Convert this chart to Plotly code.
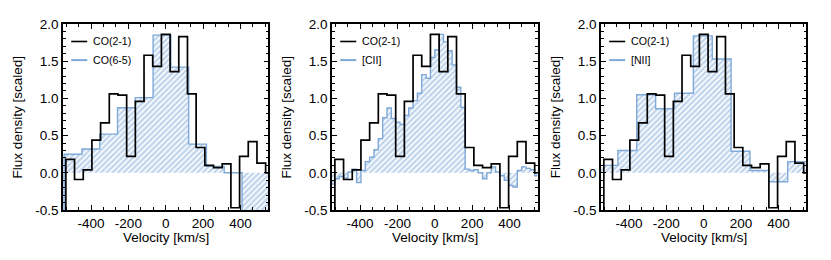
import plotly.graph_objects as go

# ---------------- data (velocity channel centres in km/s, scaled flux) ----------------
co21_v = [-558, -511.5, -465, -418.5, -372, -325.5, -279, -232.5, -186, -139.5, -93, -46.5,
          0, 46.5, 93, 139.5, 186, 232.5, 279, 325.5, 372, 418.5, 465, 511.5, 558]
co21_f = [-0.6, 0.18, -0.09, 0.04, 0.44, 0.67, 1.06, 1.045, 0.22, 0.96, 1.58, 1.43,
          1.86, 1.36, 1.83, 1.06, 0.34, 0.10, 0.07, 0.12, -0.47, 0.22, 0.42, 0.13, 0.0]

co65_v = [-591.4, -496.2, -401.0, -305.8, -210.6, -115.4, -20.2, 75.0, 170.2, 265.4, 360.6, 455.8, 551.0]
co65_f = [-0.7, 0.25, 0.32, 0.52, 0.875, 1.01, 1.85, 1.42, 0.385, 0.087, 0.0, -0.7, -0.7]

cii_v = [-569.6, -546.4, -523.1, -499.9, -476.6, -453.4, -430.1, -406.9, -383.6, -360.4,
         -337.1, -313.9, -290.6, -267.4, -244.1, -220.9, -197.6, -174.4, -151.1, -127.9,
         -104.6, -81.4, -58.1, -34.9, -11.6, 11.6, 34.9, 58.1, 81.4, 104.6,
         127.9, 151.1, 174.4, 197.6, 220.9, 244.1, 267.4, 290.6, 313.9, 337.1,
         360.4, 383.6, 406.9, 430.1, 453.4, 476.6, 499.9, 523.1, 546.4, 569.6]
cii_f = [-0.15, -0.15, -0.08, -0.05, -0.07, 0.01, 0.05, -0.13, 0.03, 0.15,
         0.21, 0.31, 0.46, 0.74, 0.87, 0.73, 0.68, 0.65, 0.77, 0.87,
         0.97, 1.07, 1.32, 1.27, 1.55, 1.65, 1.86, 1.76, 1.64, 1.45,
         1.15, 0.88, 0.05, 0.03, 0.04, 0.0, -0.08, 0.0, 0.08, 0.01,
         -0.04, -0.10, -0.17, -0.19, 0.03, 0.08, 0.06, 0.04, -0.04, -0.04]

nii_v = [-611, -510, -409, -308, -207, -106, -5, 96, 197, 298, 399, 500, 601]
nii_f = [0.10, 0.10, 0.30, 1.05, 0.86, 1.07, 1.84, 1.53, 0.29, 0.03, -0.12, 0.15, 0.08]

line_names = ["CO(6-5)", "[CII]", "[NII]"]
ref_name = "CO(2-1)"

x_tickvals = [-400, -200, 0, 200, 400]
x_ticktext = ["-400", "-200", "0", "200", "400"]
y_tickvals = [-0.5, 0.0, 0.5, 1.0, 1.5, 2.0]
y_ticktext = ["-0.5", "0.0", "0.5", "1.0", "1.5", "2.0"]

# ---------------- styling ----------------
BLUE = "#7FA9D8"
FONT = "Liberation Sans, Arial, Helvetica, sans-serif"
domains = [[0.0, 0.2762], [0.3616, 0.6378], [0.7231, 0.9993]]

fig = go.Figure()
panels = [(co65_v, co65_f), (cii_v, cii_f), (nii_v, nii_f)]

for i, (vv, ff) in enumerate(panels):
    sfx = "" if i == 0 else str(i + 1)
    xa, ya = "x" + sfx, "y" + sfx
    fig.add_trace(go.Scatter(
        x=vv, y=ff, mode="lines", xaxis=xa, yaxis=ya,
        line=dict(shape="hvh", color=BLUE, width=1.4),
        fill="tozeroy", fillcolor="rgba(0,0,0,0)",
        fillpattern=dict(shape="/", fgcolor=BLUE, bgcolor="rgba(0,0,0,0)",
                         size=4, solidity=0.6, fillmode="overlay"),
        showlegend=False, hoverinfo="skip"))
    fig.add_trace(go.Scatter(
        x=co21_v, y=co21_f, mode="lines", xaxis=xa, yaxis=ya,
        line=dict(shape="hvh", color="black", width=1.7),
        showlegend=False, hoverinfo="skip"))

    common = dict(showline=True, linecolor="black", linewidth=1.6, mirror="allticks",
                  ticks="inside", ticklen=5, tickwidth=1, tickcolor="black",
                  showgrid=False, zeroline=False, tickmode="array",
                  tickfont=dict(family=FONT, size=13.5, color="black"))
    fig.layout["xaxis" + sfx] = dict(
        domain=domains[i], range=[-550, 550], anchor=ya,
        tickvals=x_tickvals, ticktext=x_ticktext,
        minor=dict(ticks="inside", ticklen=3, tickcolor="black", tickmode="linear",
                   tick0=0, dtick=200 / 3, showgrid=False),
        **common)
    fig.layout["yaxis" + sfx] = dict(
        domain=[0, 1], range=[-0.5, 2.0], anchor=xa,
        tickvals=y_tickvals, ticktext=y_ticktext,
        minor=dict(ticks="inside", ticklen=3, tickcolor="black", tickmode="linear",
                   tick0=0, dtick=0.1, showgrid=False),
        **common)

    xd, yd = xa + " domain", ya + " domain"
    # axis titles
    fig.add_annotation(xref=xd, yref=yd, x=0.5, y=-0.1505, text="Velocity [km/s]",
                       showarrow=False, xanchor="center", yanchor="middle",
                       font=dict(family=FONT, size=13.5, color="black"))
    fig.add_annotation(xref=xd, yref=yd, x=-0.222, y=0.5, text="Flux density [scaled]",
                       showarrow=False, xanchor="center", yanchor="middle", textangle=-90,
                       font=dict(family=FONT, size=13.5, color="black"))
    # legend
    for yy, col, label in [(0.906, "black", ref_name), (0.806, BLUE, line_names[i])]:
        fig.add_shape(type="line", xref=xd, yref=yd, x0=0.04, x1=0.118, y0=yy, y1=yy,
                      line=dict(color=col, width=1.6 if col == "black" else 2))
        fig.add_annotation(xref=xd, yref=yd, x=0.135, y=yy, text=label, showarrow=False,
                           xanchor="left", yanchor="middle",
                           font=dict(family=FONT, size=10.6, color="black"))

fig.update_layout(width=831, height=260, margin=dict(l=63, r=24, t=24, b=50),
                  paper_bgcolor="white", plot_bgcolor="white", showlegend=False,
                  font=dict(family=FONT, color="black"))

fig.write_html("out.html", config={"displayModeBar": False},
               post_script="document.body.style.margin='0';document.body.style.padding='0';")
